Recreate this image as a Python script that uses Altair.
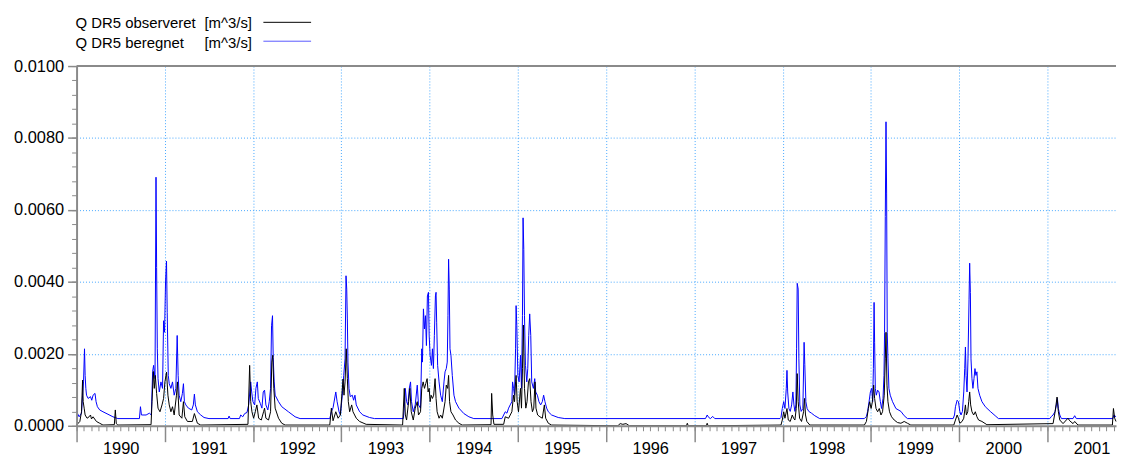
import altair as alt
import pandas as pd

# ---------------- data ----------------
years = list(range(1990, 2002))
y_major = [0.0, 0.002, 0.004, 0.006, 0.008, 0.010]
y_grid = [0.002, 0.004, 0.006, 0.008]

# simulated discharge (blue), decimal years / m^3/s
t_sim = [
    1990.000, 1990.029, 1990.056, 1990.068, 1990.079, 1990.090, 1990.097, 1990.105, 1990.113, 1990.131,
    1990.158, 1990.172, 1990.187, 1990.209, 1990.221, 1990.236, 1990.262, 1990.299, 1990.356, 1990.412,
    1990.468, 1990.712, 1990.724, 1990.735, 1990.788, 1990.825, 1990.847, 1990.862, 1990.873, 1990.889,
    1990.900, 1990.907, 1990.915, 1990.923, 1990.937, 1990.956, 1990.974, 1990.986, 1990.997, 1991.008,
    1991.019, 1991.027, 1991.039, 1991.050, 1991.069, 1991.087, 1991.106, 1991.125, 1991.140, 1991.151,
    1991.162, 1991.181, 1991.199, 1991.211, 1991.222, 1991.238, 1991.267, 1991.305, 1991.323, 1991.335,
    1991.346, 1991.369, 1991.407, 1991.444, 1991.500, 1991.717, 1991.728, 1991.740, 1991.845, 1991.860,
    1991.883, 1991.905, 1991.931, 1991.950, 1991.973, 1991.984, 1991.998, 1992.018, 1992.032, 1992.048,
    1992.059, 1992.082, 1992.100, 1992.115, 1992.130, 1992.145, 1992.167, 1992.183, 1992.198, 1992.209,
    1992.220, 1992.228, 1992.239, 1992.250, 1992.288, 1992.325, 1992.400, 1992.476, 1992.532, 1992.869,
    1992.887, 1992.906, 1992.937, 1992.952, 1992.974, 1992.989, 1993.011, 1993.027, 1993.042, 1993.053,
    1993.061, 1993.068, 1993.075, 1993.087, 1993.101, 1993.124, 1993.139, 1993.154, 1993.169, 1993.207,
    1993.244, 1993.319, 1993.376, 1993.702, 1993.713, 1993.725, 1993.739, 1993.754, 1993.770, 1993.784,
    1993.795, 1993.815, 1993.837, 1993.860, 1993.874, 1993.897, 1993.911, 1993.919, 1993.930, 1993.942,
    1993.953, 1993.964, 1993.975, 1993.987, 1993.995, 1994.006, 1994.021, 1994.032, 1994.043, 1994.054,
    1994.066, 1994.073, 1994.080, 1994.091, 1994.107, 1994.125, 1994.144, 1994.163, 1994.175, 1994.189,
    1994.200, 1994.208, 1994.215, 1994.223, 1994.231, 1994.242, 1994.257, 1994.276, 1994.294, 1994.332,
    1994.388, 1994.445, 1994.501, 1994.819, 1994.839, 1994.857, 1994.876, 1994.895, 1994.913, 1994.932,
    1994.940, 1994.951, 1994.962, 1994.974, 1994.980, 1994.988, 1995.000, 1995.014, 1995.030, 1995.041,
    1995.052, 1995.059, 1995.067, 1995.075, 1995.086, 1995.101, 1995.112, 1995.123, 1995.134, 1995.146,
    1995.157, 1995.176, 1995.191, 1995.202, 1995.221, 1995.239, 1995.258, 1995.277, 1995.292, 1995.307,
    1995.326, 1995.345, 1995.382, 1995.457, 1995.532, 1997.126, 1997.145, 1997.163, 1997.182, 1997.208,
    1997.231, 1997.970, 1997.981, 1997.996, 1998.012, 1998.026, 1998.041, 1998.049, 1998.057, 1998.071,
    1998.086, 1998.102, 1998.116, 1998.128, 1998.139, 1998.150, 1998.158, 1998.165, 1998.176, 1998.184,
    1998.195, 1998.210, 1998.229, 1998.243, 1998.251, 1998.263, 1998.277, 1998.296, 1998.327, 1998.364,
    1998.420, 1998.926, 1998.949, 1998.963, 1998.979, 1998.994, 1999.009, 1999.020, 1999.028, 1999.036,
    1999.042, 1999.050, 1999.061, 1999.076, 1999.092, 1999.107, 1999.121, 1999.137, 1999.148, 1999.155,
    1999.163, 1999.171, 1999.178, 1999.185, 1999.193, 1999.204, 1999.219, 1999.245, 1999.283, 1999.340,
    1999.377, 1999.414, 1999.932, 1999.947, 1999.958, 1999.977, 1999.992, 2000.007, 2000.021, 2000.037,
    2000.052, 2000.063, 2000.071, 2000.078, 2000.089, 2000.100, 2000.112, 2000.119, 2000.127, 2000.134,
    2000.145, 2000.156, 2000.168, 2000.179, 2000.190, 2000.201, 2000.213, 2000.232, 2000.258, 2000.296,
    2000.352, 2000.408, 2000.445, 2001.027, 2001.045, 2001.064, 2001.087, 2001.102, 2001.113, 2001.124,
    2001.140, 2001.158, 2001.290, 2001.309, 2001.327, 2001.742, 2001.753, 2001.777,
]
q_sim = [
    0.00040, 0.00025, 0.00035, 0.00085, 0.00122, 0.00214, 0.00140, 0.00104, 0.00085, 0.00076,
    0.00081, 0.00071, 0.00085, 0.00090, 0.00067, 0.00053, 0.00044, 0.00039, 0.00032, 0.00025,
    0.00020, 0.00020, 0.00053, 0.00030, 0.00030, 0.00035, 0.00030, 0.00151, 0.00168, 0.00131,
    0.00691, 0.00440, 0.00214, 0.00131, 0.00094, 0.00122, 0.00104, 0.00292, 0.00260, 0.00400,
    0.00458, 0.00315, 0.00140, 0.00117, 0.00104, 0.00122, 0.00085, 0.00104, 0.00251, 0.00140,
    0.00085, 0.00067, 0.00090, 0.00117, 0.00067, 0.00058, 0.00049, 0.00044, 0.00058, 0.00088,
    0.00058, 0.00039, 0.00030, 0.00023, 0.00020, 0.00020, 0.00027, 0.00020, 0.00020, 0.00030,
    0.00025, 0.00034, 0.00037, 0.00058, 0.00122, 0.00094, 0.00067, 0.00058, 0.00104, 0.00122,
    0.00076, 0.00062, 0.00049, 0.00094, 0.00099, 0.00058, 0.00044, 0.00067, 0.00104, 0.00278,
    0.00306, 0.00190, 0.00122, 0.00085, 0.00067, 0.00053, 0.00039, 0.00025, 0.00020, 0.00020,
    0.00039, 0.00050, 0.00094, 0.00067, 0.00039, 0.00030, 0.00085, 0.00140, 0.00186, 0.00417,
    0.00380, 0.00297, 0.00177, 0.00104, 0.00081, 0.00085, 0.00071, 0.00085, 0.00058, 0.00039,
    0.00030, 0.00023, 0.00020, 0.00020, 0.00049, 0.00104, 0.00067, 0.00058, 0.00104, 0.00122,
    0.00067, 0.00039, 0.00058, 0.00113, 0.00058, 0.00049, 0.00214, 0.00177, 0.00325, 0.00269,
    0.00306, 0.00223, 0.00361, 0.00371, 0.00251, 0.00196, 0.00168, 0.00214, 0.00159, 0.00251,
    0.00361, 0.00371, 0.00288, 0.00168, 0.00122, 0.00085, 0.00067, 0.00122, 0.00150, 0.00159,
    0.00177, 0.00306, 0.00463, 0.00380, 0.00214, 0.00196, 0.00140, 0.00085, 0.00067, 0.00049,
    0.00034, 0.00025, 0.00020, 0.00020, 0.00030, 0.00039, 0.00035, 0.00049, 0.00058, 0.00067,
    0.00122, 0.00104, 0.00085, 0.00214, 0.00334, 0.00278, 0.00140, 0.00122, 0.00196, 0.00104,
    0.00306, 0.00578, 0.00490, 0.00306, 0.00168, 0.00122, 0.00159, 0.00251, 0.00311, 0.00251,
    0.00122, 0.00104, 0.00131, 0.00094, 0.00085, 0.00067, 0.00058, 0.00067, 0.00085, 0.00067,
    0.00049, 0.00039, 0.00030, 0.00023, 0.00020, 0.00020, 0.00030, 0.00023, 0.00020, 0.00026,
    0.00020, 0.00020, 0.00023, 0.00048, 0.00067, 0.00048, 0.00104, 0.00154, 0.00094, 0.00048,
    0.00040, 0.00058, 0.00094, 0.00058, 0.00040, 0.00058, 0.00214, 0.00396, 0.00380, 0.00186,
    0.00058, 0.00040, 0.00048, 0.00232, 0.00170, 0.00067, 0.00048, 0.00040, 0.00035, 0.00028,
    0.00020, 0.00020, 0.00026, 0.00040, 0.00067, 0.00094, 0.00104, 0.00067, 0.00159, 0.00343,
    0.00232, 0.00104, 0.00085, 0.00099, 0.00094, 0.00067, 0.00048, 0.00076, 0.00140, 0.00260,
    0.00582, 0.00845, 0.00647, 0.00260, 0.00186, 0.00104, 0.00085, 0.00067, 0.00048, 0.00040,
    0.00028, 0.00020, 0.00020, 0.00030, 0.00053, 0.00071, 0.00067, 0.00040, 0.00030, 0.00040,
    0.00094, 0.00159, 0.00219, 0.00140, 0.00094, 0.00186, 0.00352, 0.00452, 0.00370, 0.00186,
    0.00131, 0.00104, 0.00131, 0.00159, 0.00140, 0.00150, 0.00104, 0.00085, 0.00067, 0.00053,
    0.00040, 0.00028, 0.00020, 0.00020, 0.00026, 0.00030, 0.00040, 0.00058, 0.00076, 0.00048,
    0.00030, 0.00020, 0.00020, 0.00028, 0.00020, 0.00020, 0.00030, 0.00025,
]

# observed discharge (black), decimal years / m^3/s
t_obs = [
    1990.000, 1990.037, 1990.056, 1990.068, 1990.075, 1990.086, 1990.097, 1990.119, 1990.142, 1990.158,
    1990.169, 1990.187, 1990.225, 1990.262, 1990.299, 1990.428, 1990.439, 1990.450, 1990.468, 1990.844,
    1990.855, 1990.870, 1990.881, 1990.892, 1990.907, 1990.923, 1990.945, 1990.968, 1990.986, 1991.001,
    1991.019, 1991.035, 1991.050, 1991.069, 1991.087, 1991.106, 1991.132, 1991.143, 1991.162, 1991.193,
    1991.211, 1991.226, 1991.256, 1991.312, 1991.335, 1991.369, 1991.407, 1991.942, 1991.961, 1991.973,
    1991.987, 1992.006, 1992.025, 1992.043, 1992.063, 1992.093, 1992.119, 1992.130, 1992.145, 1992.175,
    1992.198, 1992.212, 1992.223, 1992.235, 1992.250, 1992.288, 1992.325, 1992.363, 1992.869, 1992.887,
    1992.906, 1992.937, 1992.963, 1992.989, 1993.019, 1993.030, 1993.042, 1993.056, 1993.068, 1993.079,
    1993.094, 1993.117, 1993.132, 1993.169, 1993.207, 1993.281, 1993.694, 1993.713, 1993.725, 1993.739,
    1993.762, 1993.776, 1993.792, 1993.815, 1993.837, 1993.860, 1993.874, 1993.897, 1993.911, 1993.927,
    1993.942, 1993.956, 1993.972, 1993.983, 1993.995, 1994.006, 1994.017, 1994.032, 1994.046, 1994.062,
    1994.073, 1994.085, 1994.107, 1994.125, 1994.144, 1994.175, 1994.189, 1994.204, 1994.215, 1994.226,
    1994.242, 1994.265, 1994.294, 1994.332, 1994.369, 1994.696, 1994.703, 1994.715, 1994.729, 1994.839,
    1994.857, 1994.895, 1994.932, 1994.951, 1994.962, 1994.974, 1994.980, 1994.992, 1995.007, 1995.030,
    1995.041, 1995.052, 1995.063, 1995.075, 1995.090, 1995.104, 1995.120, 1995.134, 1995.149, 1995.165,
    1995.180, 1995.194, 1995.205, 1995.224, 1995.250, 1995.277, 1995.300, 1995.315, 1995.345, 1995.382,
    1996.133, 1996.159, 1996.189, 1996.226, 1996.263, 1996.910, 1996.920, 1996.930, 1997.135, 1997.145,
    1997.155, 1997.981, 1997.996, 1998.012, 1998.026, 1998.049, 1998.064, 1998.086, 1998.109, 1998.124,
    1998.139, 1998.154, 1998.165, 1998.176, 1998.192, 1998.214, 1998.237, 1998.248, 1998.259, 1998.274,
    1998.308, 1998.926, 1998.949, 1998.971, 1998.986, 1999.002, 1999.017, 1999.031, 1999.042, 1999.058,
    1999.076, 1999.095, 1999.114, 1999.132, 1999.151, 1999.163, 1999.171, 1999.182, 1999.193, 1999.211,
    1999.234, 1999.264, 1999.301, 1999.340, 1999.377, 1999.414, 1999.452, 1999.939, 1999.958, 1999.977,
    1999.992, 2000.007, 2000.033, 2000.052, 2000.071, 2000.082, 2000.097, 2000.108, 2000.119, 2000.130,
    2000.145, 2000.164, 2000.183, 2000.201, 2000.220, 2000.258, 2000.314, 2001.064, 2001.087, 2001.109,
    2001.124, 2001.140, 2001.177, 2001.214, 2001.233, 2001.252, 2001.290, 2001.309, 2001.346, 2001.736,
    2001.748, 2001.762, 2001.777,
]
q_obs = [
    0.00002, 0.00012, 0.00039, 0.00127, 0.00067, 0.00049, 0.00030, 0.00021, 0.00025, 0.00030,
    0.00019, 0.00025, 0.00012, 0.00007, 0.00002, 0.00003, 0.00044, 0.00006, 0.00002, 0.00003,
    0.00067, 0.00151, 0.00104, 0.00140, 0.00090, 0.00049, 0.00039, 0.00058, 0.00076, 0.00122,
    0.00149, 0.00085, 0.00058, 0.00039, 0.00053, 0.00030, 0.00085, 0.00122, 0.00030, 0.00021,
    0.00067, 0.00025, 0.00012, 0.00012, 0.00034, 0.00007, 0.00002, 0.00004, 0.00168, 0.00067,
    0.00039, 0.00021, 0.00039, 0.00058, 0.00021, 0.00016, 0.00039, 0.00049, 0.00021, 0.00016,
    0.00039, 0.00177, 0.00196, 0.00104, 0.00049, 0.00021, 0.00007, 0.00002, 0.00002, 0.00049,
    0.00014, 0.00039, 0.00021, 0.00030, 0.00130, 0.00085, 0.00122, 0.00214, 0.00131, 0.00067,
    0.00039, 0.00058, 0.00039, 0.00021, 0.00012, 0.00004, 0.00002, 0.00104, 0.00030, 0.00016,
    0.00067, 0.00104, 0.00039, 0.00016, 0.00049, 0.00067, 0.00030, 0.00039, 0.00104, 0.00122,
    0.00104, 0.00117, 0.00131, 0.00094, 0.00104, 0.00067, 0.00085, 0.00076, 0.00085, 0.00131,
    0.00076, 0.00039, 0.00021, 0.00030, 0.00021, 0.00067, 0.00113, 0.00104, 0.00140, 0.00067,
    0.00039, 0.00030, 0.00016, 0.00007, 0.00002, 0.00003, 0.00090, 0.00030, 0.00004, 0.00004,
    0.00025, 0.00021, 0.00039, 0.00085, 0.00067, 0.00122, 0.00140, 0.00067, 0.00039, 0.00104,
    0.00049, 0.00159, 0.00280, 0.00104, 0.00049, 0.00067, 0.00122, 0.00131, 0.00067, 0.00039,
    0.00049, 0.00122, 0.00049, 0.00030, 0.00025, 0.00021, 0.00058, 0.00021, 0.00007, 0.00002,
    0.00000, 0.00006, 0.00004, 0.00006, 0.00000, 0.00000, 0.00007, 0.00000, 0.00000, 0.00007,
    0.00000, 0.00002, 0.00016, 0.00039, 0.00021, 0.00048, 0.00016, 0.00012, 0.00030, 0.00021,
    0.00016, 0.00048, 0.00145, 0.00067, 0.00021, 0.00012, 0.00039, 0.00076, 0.00030, 0.00012,
    0.00002, 0.00002, 0.00012, 0.00048, 0.00067, 0.00048, 0.00067, 0.00113, 0.00076, 0.00048,
    0.00039, 0.00048, 0.00030, 0.00039, 0.00085, 0.00186, 0.00260, 0.00113, 0.00067, 0.00039,
    0.00025, 0.00016, 0.00009, 0.00007, 0.00012, 0.00007, 0.00002, 0.00002, 0.00016, 0.00030,
    0.00021, 0.00007, 0.00012, 0.00021, 0.00058, 0.00030, 0.00039, 0.00067, 0.00094, 0.00058,
    0.00039, 0.00030, 0.00039, 0.00025, 0.00016, 0.00012, 0.00003, 0.00006, 0.00039, 0.00080,
    0.00039, 0.00016, 0.00006, 0.00016, 0.00021, 0.00014, 0.00006, 0.00012, 0.00002, 0.00002,
    0.00048, 0.00021, 0.00012,
]

label_obs = "Q DR5 observeret"
label_sim = "Q DR5 beregnet"
unit = "[m^3/s]"

# ---------------- chart ----------------
sim = pd.DataFrame({"t": t_sim, "q": q_sim})
obs = pd.DataFrame({"t": t_obs, "q": q_obs})

X_END = 2001.777
xscale = alt.Scale(domain=[1990, X_END], nice=False, zero=False)
yscale = alt.Scale(domain=[0, 0.01], nice=False, zero=True)

GRID = "#48a8ff"
AXC = "#8a8a8a"
FONT = "Liberation Sans"
BLUE = "#0000ff"

grid_x = alt.Axis(orient="bottom", values=years[1:], grid=True, gridColor=GRID,
                  gridDash=[1, 2], gridWidth=1, gridOpacity=1, domain=False,
                  ticks=False, labels=False, title="", zindex=0)
grid_y = alt.Axis(orient="left", values=y_grid, grid=True, gridColor=GRID,
                  gridDash=[1, 2], gridWidth=1, gridOpacity=1, domain=False,
                  ticks=False, labels=False, title="", zindex=0)

major_x = alt.Axis(orient="bottom", values=years, grid=False, domain=True,
                   domainColor=AXC, domainWidth=2, ticks=True, tickColor=AXC,
                   tickWidth=1.5, tickSize=16, labels=True, labelOffset=44.4,
                   labelPadding=-1, labelFont=FONT, labelFontSize=16.5,
                   labelColor="#000000", format="d", labelOverlap=False,
                   labelFlush=False, labelBound=False, title="", zindex=1)
major_y = alt.Axis(orient="left", values=y_major, grid=False, domain=True,
                   domainColor=AXC, domainWidth=2, ticks=True, tickColor=AXC,
                   tickWidth=1.5, tickSize=9, labels=True, labelPadding=4,
                   labelFont=FONT, labelFontSize=16.5, labelColor="#000000",
                   format=".4f", labelOverlap=False, labelFlush=False,
                   title="", zindex=1)

minor_x = alt.Axis(orient="bottom", values=[1990 + k / 12 for k in range(142)],
                   grid=False, domain=False, ticks=True, tickColor=AXC,
                   tickWidth=1, tickSize=5, labels=False, title="", zindex=1)
minor_y = alt.Axis(orient="left", values=[round(k * 0.0004, 4) for k in range(26)],
                   grid=False, domain=False, ticks=True, tickColor=AXC,
                   tickWidth=1, tickSize=5, labels=False, title="", zindex=1)

sim_line = alt.Chart(sim).mark_line(color=BLUE, strokeWidth=1).encode(
    x=alt.X("t:Q", scale=xscale, axis=grid_x),
    y=alt.Y("q:Q", scale=yscale, axis=grid_y),
)
obs_line = alt.Chart(obs).mark_line(color="#000000", strokeWidth=1).encode(
    x=alt.X("t:Q", scale=xscale, axis=major_x),
    y=alt.Y("q:Q", scale=yscale, axis=major_y),
)

one = alt.Data(values=[{}])
top_rule = alt.Chart(one).mark_rule(color=AXC, strokeWidth=2).encode(
    x=alt.XDatum(1990, type="quantitative", scale=xscale, axis=minor_x),
    x2=alt.X2Datum(X_END),
    y=alt.YDatum(0.01, type="quantitative", scale=yscale, axis=minor_y),
)


def legend_text(s, x, y, align):
    return alt.Chart(one).mark_text(text=s, align=align, baseline="alphabetic",
                                    font=FONT, fontSize=15, color="#000000").encode(
        x=alt.value(x), y=alt.value(y))


def legend_line(color, y):
    return alt.Chart(one).mark_rule(color=color, strokeWidth=1).encode(
        x=alt.value(188), x2=alt.value(236), y=alt.value(y))


legend = [
    legend_text(label_obs, -1, -38.5, "left"),
    legend_text(unit, 176.5, -38.5, "right"),
    legend_text(label_sim, -1, -18.3, "left"),
    legend_text(unit, 176.5, -18.3, "right"),
    legend_line("#000000", -44),
    legend_line("#5a5aff", -25),
]

chart = alt.layer(sim_line, obs_line, top_rule, *legend).resolve_axis(
    x="independent", y="independent"
).properties(
    width=1046,
    height=362,
    padding={"left": 69, "top": 57, "right": 1, "bottom": 30},
    autosize=alt.AutoSizeParams(type="none"),
).configure_view(strokeWidth=0)

chart.save("out.html", embed_options={"renderer": "svg", "actions": False})
